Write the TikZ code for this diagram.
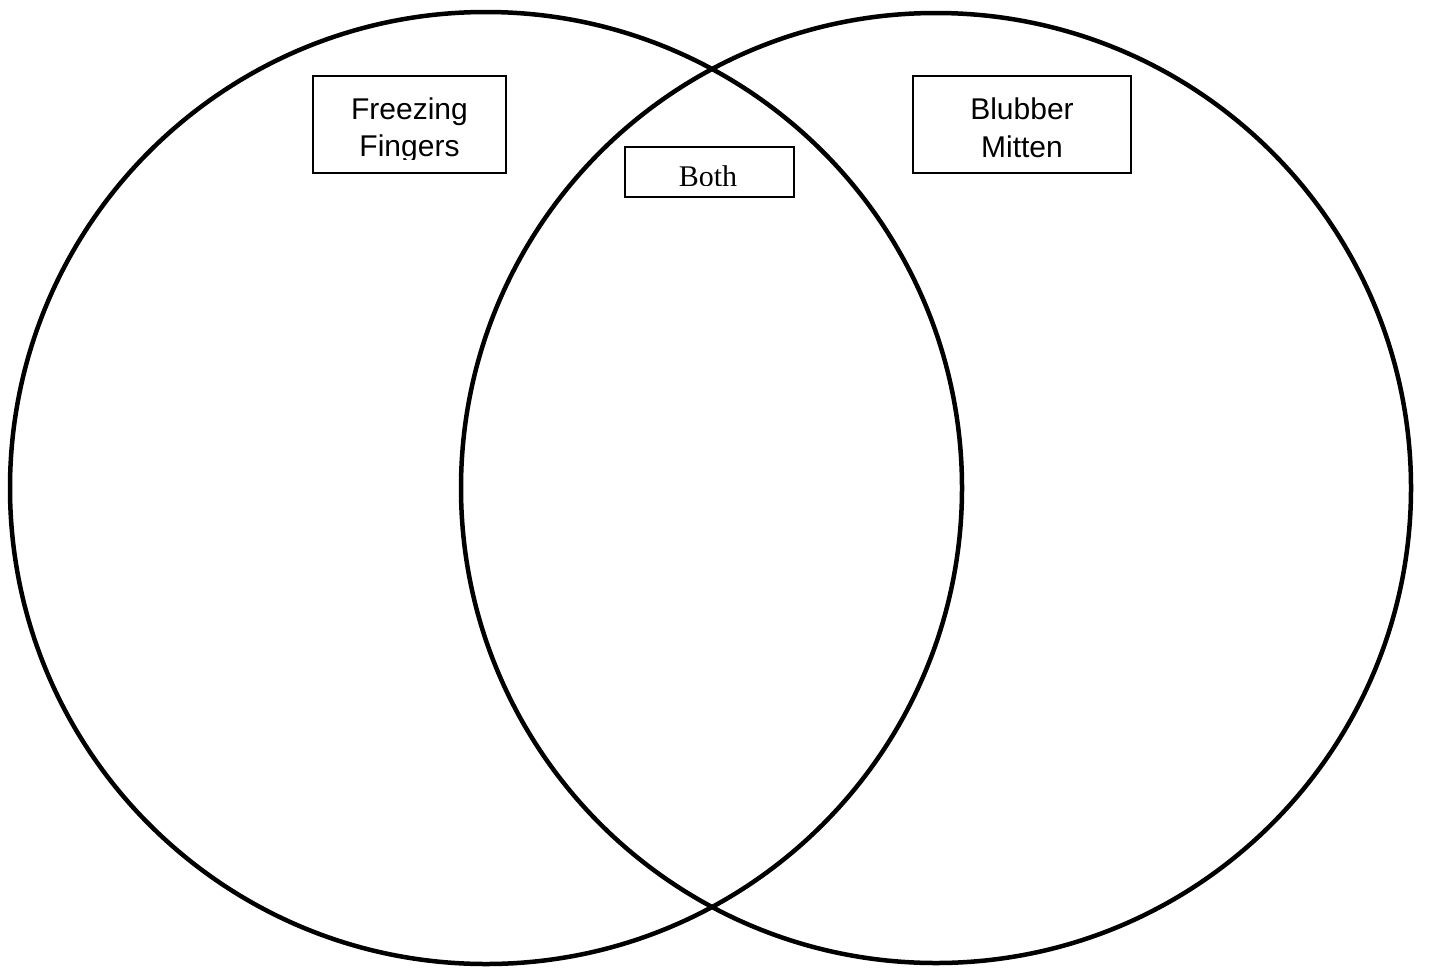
\documentclass[tikz,border=0pt]{standalone}
\usepackage{fontspec}
\setmainfont{Liberation Sans}
\newfontfamily\serifbody{Liberation Serif}
\begin{document}
\begin{tikzpicture}[x=1pt,y=-1pt,
  ring/.style={circle,draw=black,line width=4.5pt,inner sep=0pt,minimum size=#1},
  labelbox/.style={rectangle,draw=black,line width=2pt,fill=white,inner sep=0pt},
  labeltext/.style={anchor=base,inner sep=0pt,font=\fontsize{30}{36}\selectfont}]
\useasboundingbox[fill=white] (0,0) rectangle (1429,972);
\node[ring=952pt] (L) at (486,488) {};
\node[ring=950pt] (R) at (936,488) {};
% boxes
\node[labelbox,minimum width=193pt,minimum height=97pt] (b1) at (409.5,124.5) {};
\node[labelbox,minimum width=169pt,minimum height=50pt] (b2) at (709.5,172) {};
\node[labelbox,minimum width=218pt,minimum height=97pt] (b3) at (1022,124.5) {};
% texts
\begin{scope}
  \clip (315,78) rectangle (504,159);
  \node[labeltext] (t1a) at (409.5,119) {Freezing};
  \node[labeltext] (t1b) at (409.5,156.5) {Fingers};
\end{scope}
\begin{scope}
  \clip (627,149) rectangle (792,185);
  \node[labeltext,font=\serifbody\fontsize{30}{36}\selectfont] (t2) at (708,186) {Both};
\end{scope}
\begin{scope}
  \clip (915,78) rectangle (1129,171);
  \node[labeltext] (t3a) at (1022,119) {Blubber};
  \node[labeltext] (t3b) at (1022,157) {Mitten};
\end{scope}
\end{tikzpicture}
\end{document}
